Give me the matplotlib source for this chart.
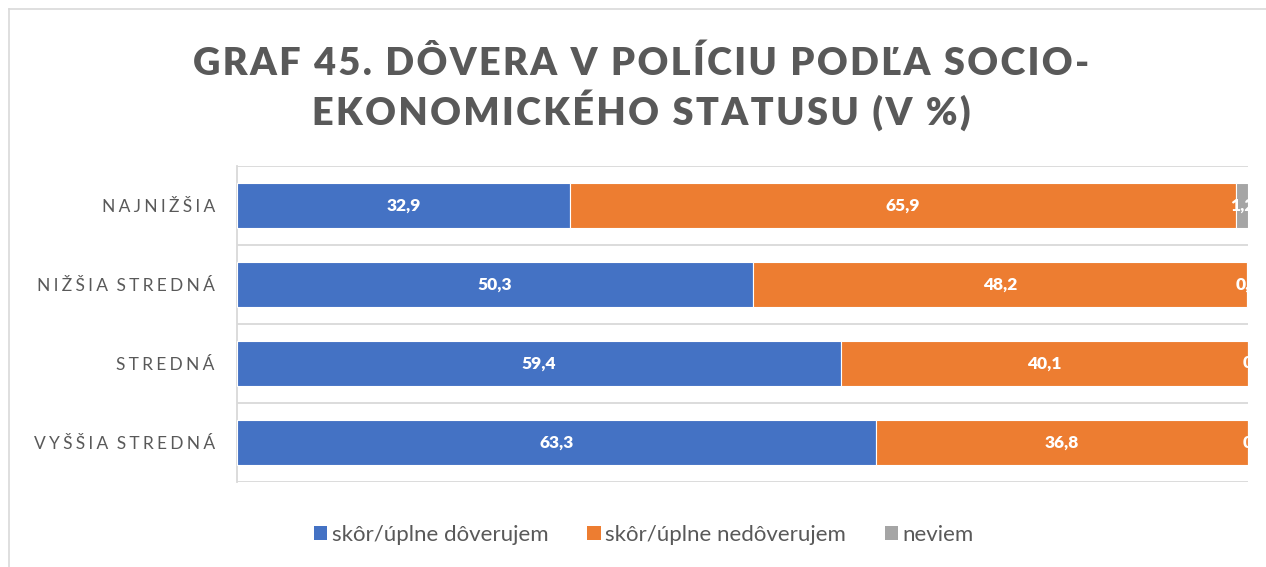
import matplotlib
matplotlib.use("Agg")
import matplotlib.pyplot as plt
from matplotlib.patches import Patch
from matplotlib.lines import Line2D

# Data: trust in police by socio-economic status (%)
categories = ["NAJNIŽŠIA", "NIŽŠIA STREDNÁ", "STREDNÁ", "VYŠŠIA STREDNÁ"]
trust = [32.9, 50.3, 59.4, 63.3]
distrust = [65.9, 48.2, 40.1, 36.8]
dont_know = [1.2, 0.1, 0.0, 0.0]
series_names = ["skôr/úplne dôverujem", "skôr/úplne nedôverujem", "neviem"]
title_lines = ["GRAF 45. DÔVERA V POLÍCIU PODĽA SOCIO-",
               "EKONOMICKÉHO STATUSU (V %)"]

colors = ["#4472C4", "#ED7D31", "#A5A5A5"]
text_gray = "#595959"
FONT = ["Lato", "DejaVu Sans"]

W, H = 1266, 567
fig = plt.figure(figsize=(W / 100, H / 100), dpi=100)
fig.patch.set_facecolor("white")


def spaced(s, gap="\u2009"):
    return gap.join(s)


def spaced_words(s, gap, word_gap):
    # letter-spaced text with a fixed-width gap between words
    return word_gap.join(gap.join(word) for word in s.split(" "))


def fmt(v):
    return ("%g" % v).replace(".", ",")


# chart frame (left and top edges)
fig.add_artist(Line2D([8.5 / W, 8.5 / W], [0, 1 - 8.5 / H], color="#d9d9d9", lw=1.2))
fig.add_artist(Line2D([8.5 / W, 1.0], [1 - 8.5 / H, 1 - 8.5 / H], color="#d9d9d9", lw=1.2))

ax = fig.add_axes([237 / W, 1 - 482 / H, (1248 - 237) / W, (482 - 166) / H])

series = [trust, distrust, dont_know]
ypos = list(range(len(categories)))
totals = [sum(vals) for vals in zip(*series)]
left = [0.0] * len(categories)
for vals, col in zip(series, colors):
    pct = [v / t * 100 for v, t in zip(vals, totals)]
    ax.barh(ypos, pct, left=left, height=0.57, color=col,
            edgecolor="white", linewidth=0.8, zorder=3)
    for y, l, p, v in zip(ypos, left, pct, vals):
        ax.text(l + p / 2, y, fmt(v), ha="center", va="center",
                color="white", fontsize=12.5, fontweight="heavy",
                family=FONT, zorder=4, clip_on=True)
    left = [l + p for l, p in zip(left, pct)]

ax.set_xlim(0, 100)
ax.set_ylim(len(categories) - 0.5, -0.5)
ax.hlines([i - 0.5 for i in range(len(categories) + 1)], 0, 100,
          color="#d9d9d9", lw=1.3, zorder=1)
ax.set_xticks([])
ax.set_yticks(ypos)
ax.set_yticklabels([spaced_words(c, "\u2009\u200a", "\u2009\u2009\u2009\u2009")
                    for c in categories],
                   family=FONT, fontsize=12.5, color=text_gray)
ax.tick_params(axis="y", length=0, pad=16)
for s in ["top", "right", "bottom"]:
    ax.spines[s].set_visible(False)
ax.spines["left"].set_color("#d9d9d9")
ax.spines["left"].set_linewidth(1.3)

# title
fig.text(641 / W, 1 - 75 / H, spaced(title_lines[0], "\u200a"), ha="center",
         va="baseline", fontsize=27.3, fontweight="heavy", color=text_gray, family=FONT)
fig.text(641 / W, 1 - 125 / H, spaced(title_lines[1], "\u200a"), ha="center",
         va="baseline", fontsize=27.3, fontweight="heavy", color=text_gray, family=FONT)

handles = [Patch(facecolor=c, edgecolor="none") for c in colors]
fig.legend(handles, series_names, loc="center", bbox_to_anchor=(644 / W, 1 - 535 / H),
           ncol=3, frameon=False, handlelength=0.6, handleheight=0.6,
           handletextpad=0.2, columnspacing=1.75,
           prop={"family": FONT, "size": 16}, labelcolor=text_gray)

fig.savefig("out.png", dpi=100)
